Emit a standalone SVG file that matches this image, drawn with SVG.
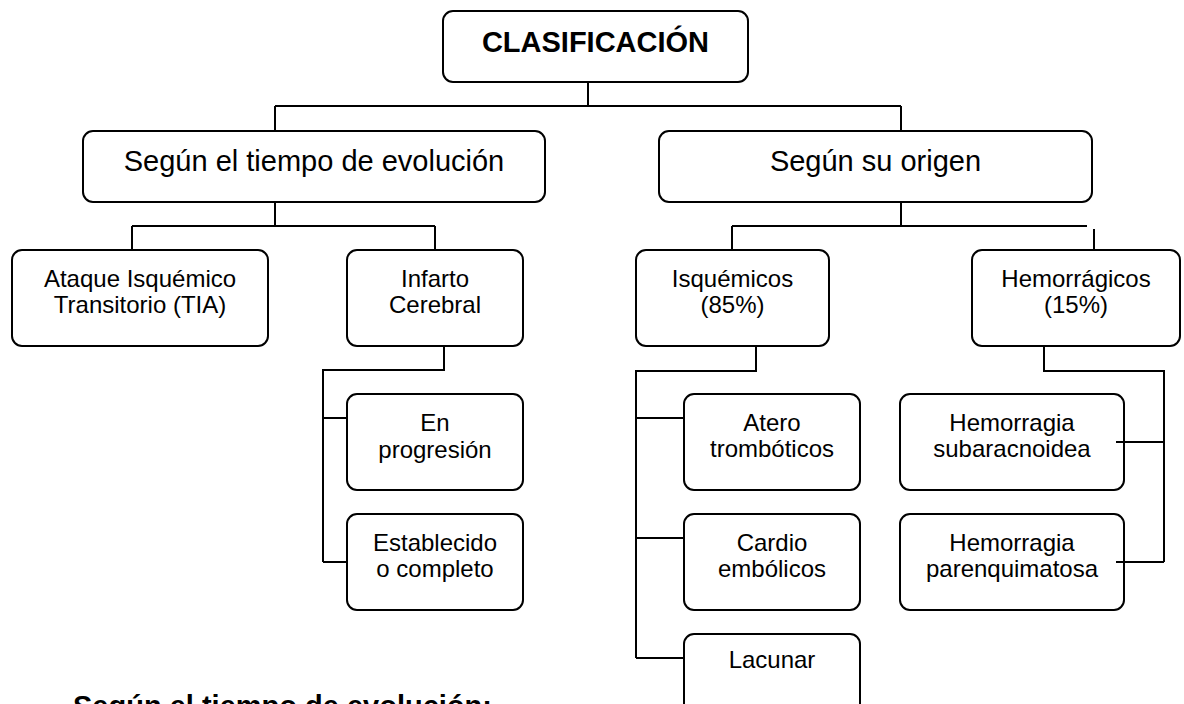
<svg xmlns="http://www.w3.org/2000/svg" width="1184" height="704" viewBox="0 0 1184 704">
<style>
  .box { fill: #ffffff; stroke: #000000; stroke-width: 2; }
  .ln { fill: none; stroke: #000000; stroke-width: 2; }
  text { font-family: "Liberation Sans", Arial, sans-serif; fill: #000000; text-anchor: middle; }
  .h0 { font-size: 29px; font-weight: bold; }
  .h1 { font-size: 29px; }
  .h2 { font-size: 24px; }
</style>
<rect width="1184" height="704" fill="#ffffff"/>
<g id="connectors">
  <path class="ln" d="M588 82 V106 M275 106 H901 M275 106 V131 M901 106 V131"/>
  <path class="ln" d="M275 202 V226 M132 226 H435 M132 226 V250 M435 226 V250"/>
  <path class="ln" d="M901 202 V226 M732 226 H1087 M732 226 V250 M1094 229 V250"/>
  <path class="ln" d="M444 346 V370 H323 V562 M323 418 H347 M323 562 H347"/>
  <path class="ln" d="M756 346 V371 H636 V658 M636 418 H684 M636 538 H684 M636 658 H684"/>
  <path class="ln" d="M1044 346 V371 H1164 V562 M1116 442 H1164 M1116 562 H1164"/>
</g>
<g id="n-clasificacion">
  <rect class="box" x="443" y="11" width="305" height="71" rx="10"/>
  <text class="h0" x="595.5" y="52">CLASIFICACIÓN</text>
</g>
<g id="n-tiempo">
  <rect class="box" x="83" y="131" width="462" height="71" rx="10"/>
  <text class="h1" x="314" y="171">Según el tiempo de evolución</text>
</g>
<g id="n-origen">
  <rect class="box" x="659" y="131" width="433" height="71" rx="10"/>
  <text class="h1" x="875.5" y="171">Según su origen</text>
</g>
<g id="n-tia">
  <rect class="box" x="12" y="250" width="256" height="96" rx="10"/>
  <text class="h2" x="140" y="287">Ataque Isquémico</text>
  <text class="h2" x="140" y="313">Transitorio (TIA)</text>
</g>
<g id="n-infarto">
  <rect class="box" x="347" y="250" width="176" height="96" rx="10"/>
  <text class="h2" x="435" y="287">Infarto</text>
  <text class="h2" x="435" y="313">Cerebral</text>
</g>
<g id="n-isquemicos">
  <rect class="box" x="636" y="250" width="193" height="96" rx="10"/>
  <text class="h2" x="732.5" y="287">Isquémicos</text>
  <text class="h2" x="732.5" y="313">(85%)</text>
</g>
<g id="n-hemorragicos">
  <rect class="box" x="972" y="250" width="208" height="96" rx="10"/>
  <text class="h2" x="1076" y="287">Hemorrágicos</text>
  <text class="h2" x="1076" y="313">(15%)</text>
</g>
<g id="n-progresion">
  <rect class="box" x="347" y="394" width="176" height="96" rx="10"/>
  <text class="h2" x="435" y="431">En</text>
  <text class="h2" x="435" y="458">progresión</text>
</g>
<g id="n-establecido">
  <rect class="box" x="347" y="514" width="176" height="96" rx="10"/>
  <text class="h2" x="435" y="551">Establecido</text>
  <text class="h2" x="435" y="577">o completo</text>
</g>
<g id="n-atero">
  <rect class="box" x="684" y="394" width="176" height="96" rx="10"/>
  <text class="h2" x="772" y="431">Atero</text>
  <text class="h2" x="772" y="457">trombóticos</text>
</g>
<g id="n-cardio">
  <rect class="box" x="684" y="514" width="176" height="96" rx="10"/>
  <text class="h2" x="772" y="551">Cardio</text>
  <text class="h2" x="772" y="577">embólicos</text>
</g>
<g id="n-lacunar">
  <rect class="box" x="684" y="634" width="176" height="96" rx="10"/>
  <text class="h2" x="772" y="668">Lacunar</text>
</g>
<g id="n-subaracnoidea">
  <rect class="box" x="900" y="394" width="224" height="96" rx="10"/>
  <text class="h2" x="1012" y="431">Hemorragia</text>
  <text class="h2" x="1012" y="457">subaracnoidea</text>
</g>
<g id="n-parenquimatosa">
  <rect class="box" x="900" y="514" width="224" height="96" rx="10"/>
  <text class="h2" x="1012" y="551">Hemorragia</text>
  <text class="h2" x="1012" y="577">parenquimatosa</text>
</g>
<path class="ln" d="M1116 442 H1124 M1116 562 H1124"/>
<text class="h0" x="73" y="716" style="text-anchor:start">Según el tiempo de evolución:</text>
</svg>
